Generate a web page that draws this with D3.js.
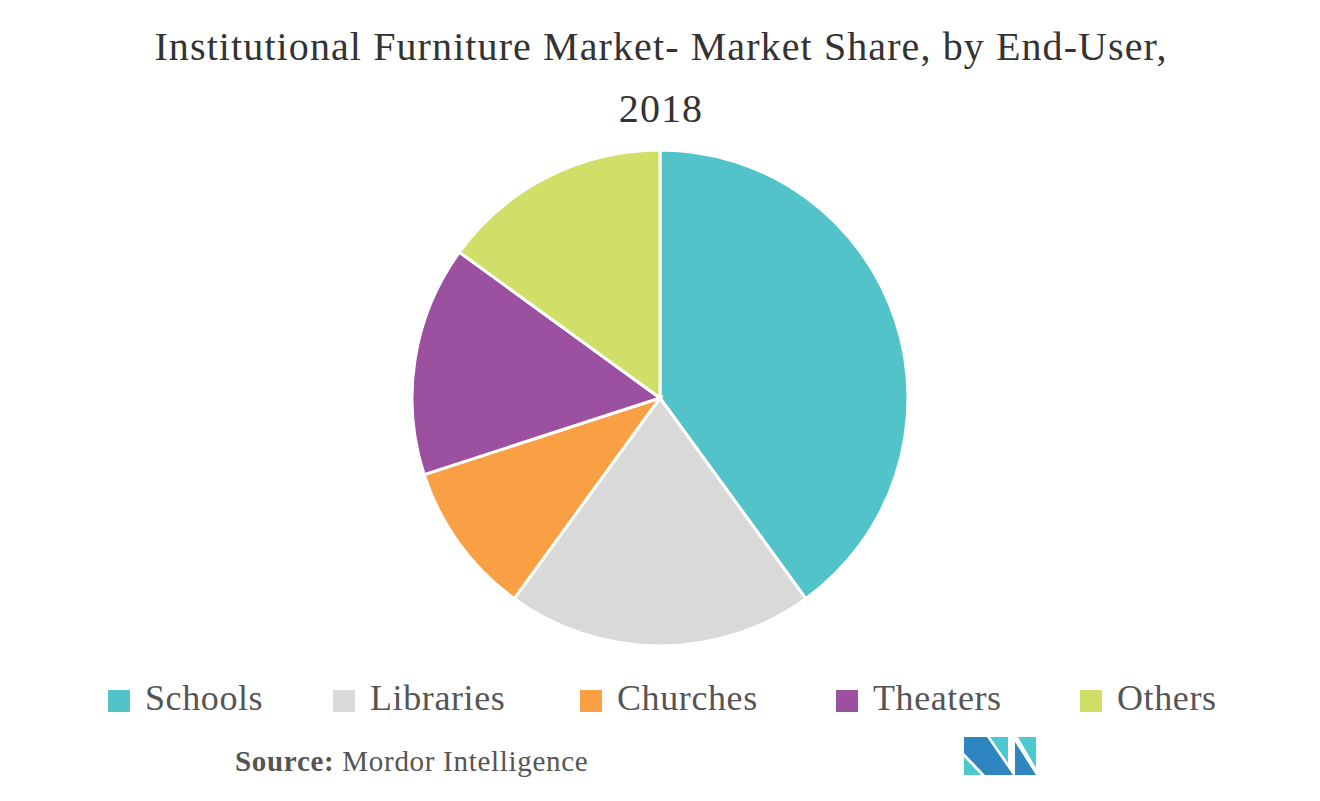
<!DOCTYPE html>
<html>
<head>
<meta charset="utf-8">
<script src="https://cdn.jsdelivr.net/npm/d3@7"></script>
<style>
  body { margin: 0; background: #fff; }
  text { font-family: "Liberation Serif", "DejaVu Serif", serif; }
</style>
</head>
<body>
<div class="container"></div>
<script>
(function(){

    // end-user segments and their share (%)
    var categories = ["Schools", "Libraries", "Churches", "Theaters", "Others"];
    var shares = [40, 20, 10, 15, 15];
    var colors = ["#52c4c9", "#d9d9d9", "#f9a044", "#9b50a0", "#d0df67"];

    var titleLines = ["Institutional Furniture Market- Market Share, by End-User,", "2018"];

    var width = 1320, height = 801;

    var svg = d3.select(".container").append("svg")
        .attr("width", width)
        .attr("height", height);

    // title
    svg.selectAll("text.title")
      .data(titleLines)
      .enter().append("text")
      .attr("class", "title")
      .attr("x", 661)
      .attr("y", function(d, i) { return 60 + i * 62; })
      .attr("text-anchor", "middle")
      .style("font-size", "40px")
      .style("letter-spacing", "1.1px")
      .style("fill", "#333")
      .text(function(d) { return d; });

    // pie
    var data = categories.map(function(c, i) { return {name: c, value: shares[i], color: colors[i]}; });

    var pie = d3.pie()
        .sort(null)
        .value(function(d) { return d.value; });

    var arc = d3.arc()
        .innerRadius(0)
        .outerRadius(248);

    var g = svg.append("g")
        .attr("transform", "translate(660,398)");

    g.selectAll("path")
      .data(pie(data))
      .enter().append("path")
      .attr("d", arc)
      .style("fill", function(d) { return d.data.color; })
      .style("stroke", "#fff")
      .style("stroke-width", 3);

    // legend
    var legendX = [108, 333, 580, 836, 1080];

    var legend = svg.selectAll("g.legend")
      .data(data)
      .enter().append("g")
      .attr("class", "legend")
      .attr("transform", function(d, i) { return "translate(" + legendX[i] + ",690)"; });

    legend.append("rect")
      .attr("width", 22)
      .attr("height", 22)
      .style("fill", function(d) { return d.color; });

    legend.append("text")
      .attr("x", 37)
      .attr("y", 20)
      .style("font-size", "36px")
      .style("letter-spacing", "0.6px")
      .style("fill", "#555")
      .text(function(d) { return d.name; });

    // source
    var src = svg.append("text")
      .attr("x", 235)
      .attr("y", 771)
      .style("font-size", "29px")
      .style("letter-spacing", "0.7px")
      .style("fill", "#555");
    src.append("tspan").style("font-weight", "bold").text("Source:");
    src.append("tspan").text(" Mordor Intelligence");

    // logo
    var logo = svg.append("g").attr("transform", "translate(964,737)");
    var shapes = [
      {pts: [[0,0],[23,0],[49,38],[21,38],[0,16]], fill: "#2e86c1"},
      {pts: [[0,20],[0,38],[17,38]], fill: "#4cc8cf"},
      {pts: [[26,0],[44,0],[44,26]], fill: "#4cc8cf"},
      {pts: [[51,5],[51,38],[72,38]], fill: "#2e86c1"},
      {pts: [[54,0],[72,0],[72,31]], fill: "#4cc8cf"}
    ];
    logo.selectAll("polygon")
      .data(shapes)
      .enter().append("polygon")
      .attr("points", function(d) { return d.pts.map(function(p) { return p.join(","); }).join(" "); })
      .style("fill", function(d) { return d.fill; });

})();
</script>
</body>
</html>
